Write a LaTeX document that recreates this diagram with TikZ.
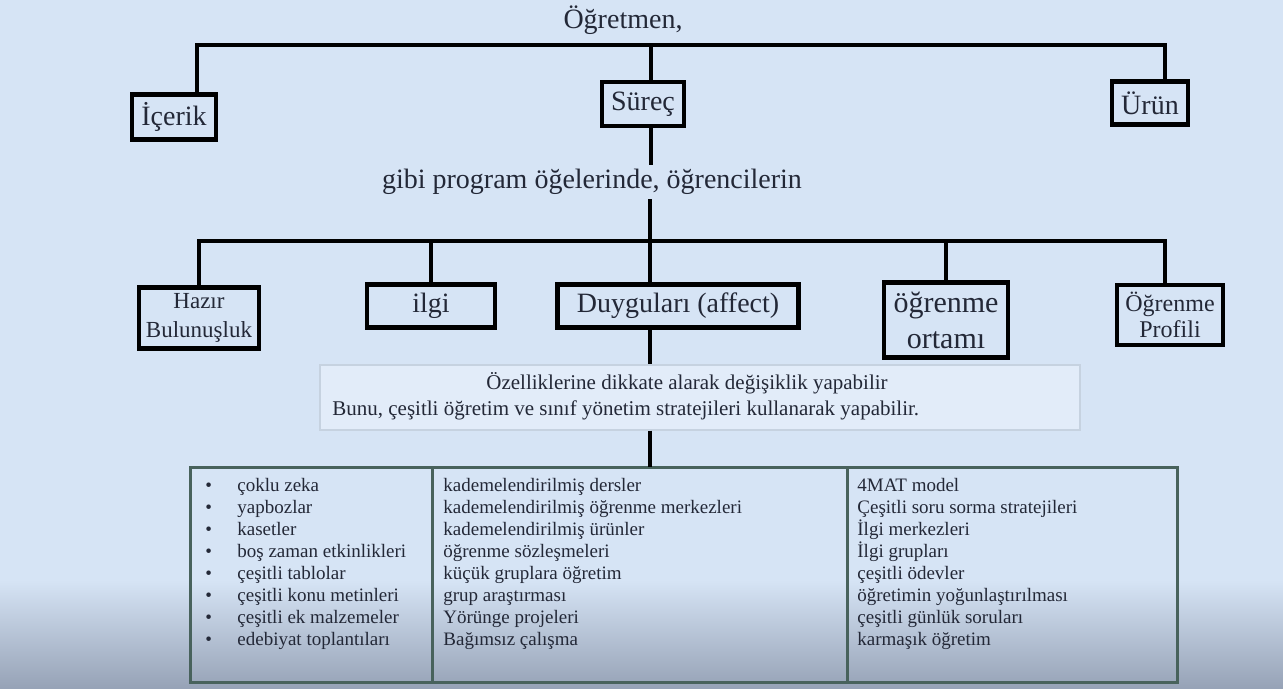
\documentclass[tikz,border=0pt]{standalone}
\usepackage{fontspec}
\setmainfont{Liberation Serif}
\usepackage{tikz}
\usetikzlibrary{positioning}
\tikzset{
  elem_box/.style = {align=center, inner sep=2pt, draw=black, line width=2.2pt, text=my_ink,
  font=\fontsize{14}{16}\selectfont},
  col_box/.style = {draw=my_grid, line width=1.5pt, outer sep=0pt, inner sep=0pt,
  minimum height=107.5pt, anchor=north west},
  list_txt/.style = {inner sep=0pt, align=left, anchor=north west, text=my_ink,
  font=\fontsize{9.5}{11}\selectfont}
}
\definecolor{my_bg}{RGB}{214, 228, 245}
\definecolor{my_shadow}{RGB}{150, 162, 182}
\definecolor{my_panel}{RGB}{226, 236, 249}
\definecolor{my_rim}{RGB}{198, 210, 224}
\definecolor{my_grid}{RGB}{72, 98, 92}
\definecolor{my_ink}{RGB}{35, 40, 55}
\newcommand{\tabbul}{\makebox[16pt][l]{\textbullet}}
\begin{document}
\begin{tikzpicture}[x=0.5pt, y=-0.5pt,
        conn/.style={line width=1.8pt, black},
        plain_txt/.style={inner sep=2pt, text=my_ink},
        big/.style={font=\fontsize{14}{16}\selectfont},
        small/.style={font=\fontsize{10.5}{12}\selectfont}]
    % slide background
    \fill[my_bg] (0,0) rectangle (1283,689);
    \shade[top color=my_bg, bottom color=my_shadow] (0,580) rectangle (1283,689);
    \useasboundingbox (0,0) rectangle (1283,689);

    % program elements
    \node [plain_txt, big] (ogretmen) at (623,20) {Öğretmen,};
    \node [elem_box, minimum width=42pt, minimum height=22.5pt] (icerik) at (174,117) {İçerik};
    \node [elem_box, minimum width=41pt, minimum height=22pt] (surec) at (643,104) {Süreç};
    \node [elem_box, minimum width=38pt, minimum height=21.5pt] (urun) at (1150,103) {Ürün};
    \node [plain_txt, big] (gibi) at (592,182) {gibi program öğelerinde, öğrencilerin};

    % student traits
    \node [elem_box, minimum width=60pt, minimum height=30.5pt,
        font=\fontsize{11.5}{14.5}\selectfont] (hazir) at (199,318) {Hazır\\Bulunuşluk};
    \node [elem_box, minimum width=64pt, minimum height=21.5pt] (ilgi) at (431,306) {ilgi};
    \node [elem_box, minimum width=120.5pt, minimum height=21.5pt] (duygu) at (678,306) {Duyguları (affect)};
    \node [elem_box, minimum width=62pt, minimum height=37.5pt,
        font=\fontsize{15}{18}\selectfont] (ortam) at (946,320) {öğrenme\\ortamı};
    \node [elem_box, minimum width=53pt, minimum height=30pt,
        font=\fontsize{12}{13}\selectfont] (profil) at (1170,315) {Öğrenme\\Profili};

    % note panel
    \node [draw=my_rim, line width=0.6pt, fill=my_panel, minimum width=380pt,
        minimum height=32.5pt, inner sep=0pt] (panel) at (700,397.5) {};
    \node [plain_txt, small] (ozel) at (687,383) {Özelliklerine dikkate alarak değişiklik yapabilir};
    \node [plain_txt, small, anchor=west] (bunu) at (328,410)
        {Bunu, çeşitli öğretim ve sınıf yönetim stratejileri kullanarak yapabilir.};

    % strategy table
    \node [col_box, minimum width=121pt] (col1) at (190,467) {};
    \node [col_box, minimum width=207.5pt, right=0pt of col1] (col2) {};
    \node [col_box, minimum width=165pt, right=0pt of col2] (col3) {};
    \node [list_txt] (list1) at ([xshift=7.5pt,yshift=-5.5pt]col1.north west)
        {\tabbul çoklu zeka\\ \tabbul yapbozlar\\ \tabbul kasetler\\
         \tabbul boş zaman etkinlikleri\\ \tabbul çeşitli tablolar\\
         \tabbul çeşitli konu metinleri\\ \tabbul çeşitli ek malzemeler\\
         \tabbul edebiyat toplantıları};
    \node [list_txt] (list2) at ([xshift=5.5pt,yshift=-5.5pt]col2.north west)
        {kademelendirilmiş dersler\\ kademelendirilmiş öğrenme merkezleri\\
         kademelendirilmiş ürünler\\ öğrenme sözleşmeleri\\ küçük gruplara öğretim\\
         grup araştırması\\ Yörünge projeleri\\ Bağımsız çalışma};
    \node [list_txt] (list3) at ([xshift=5pt,yshift=-5.5pt]col3.north west)
        {4MAT model\\ Çeşitli soru sorma stratejileri\\ İlgi merkezleri\\ İlgi grupları\\
         çeşitli ödevler\\ öğretimin yoğunlaştırılması\\ çeşitli günlük soruları\\
         karmaşık öğretim};

    % connectors
    \coordinate (top_bar) at (651,45);
    \coordinate (mid_bar) at (650,241);
    \draw [conn] ([xshift=11.5pt]icerik.north) |- (top_bar) -| ([xshift=7.5pt]urun.north);
    \draw [conn] (top_bar) -- (top_bar |- surec.north);
    \draw [conn] (top_bar |- surec.south) -- (top_bar |- gibi.north);
    \draw [conn] (hazir.north) |- (mid_bar) -| ([xshift=-2.5pt]profil.north);
    \draw [conn] (ilgi.north) -- (ilgi.north |- mid_bar);
    \draw [conn] (ortam.north) -- (ortam.north |- mid_bar);
    \draw [conn] (mid_bar |- gibi.south) -- (mid_bar |- duygu.north);
    \draw [conn] (mid_bar |- duygu.south) -- (mid_bar |- panel.north);
    \draw [conn] (mid_bar |- panel.south) -- (mid_bar |- col2.north);
\end{tikzpicture}
\end{document}
